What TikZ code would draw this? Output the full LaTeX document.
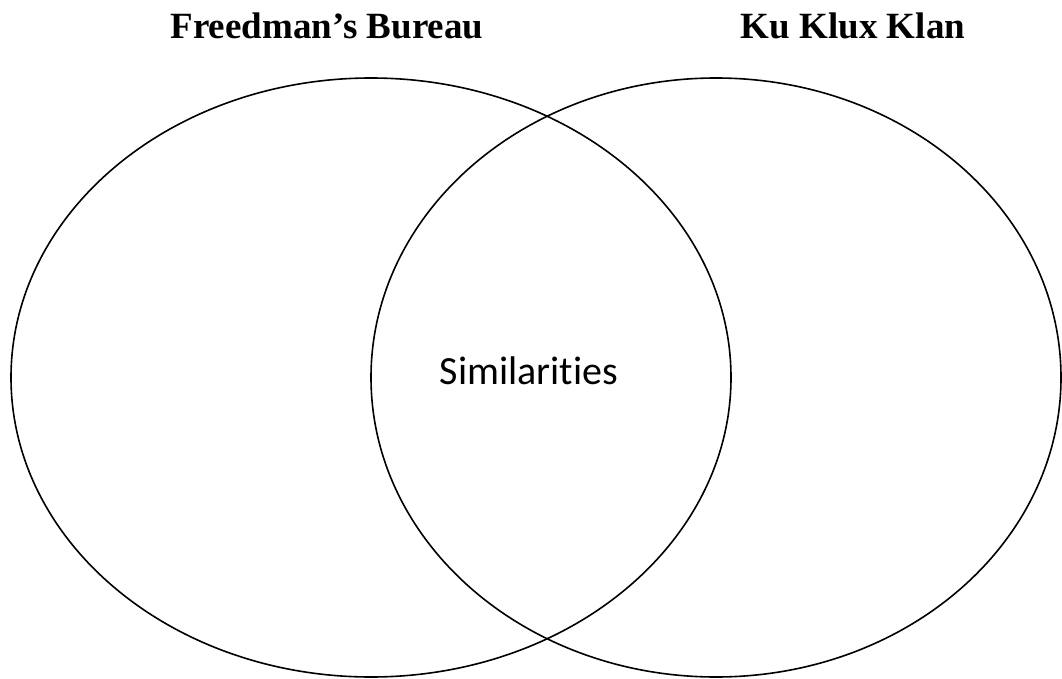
\documentclass[tikz,border=0pt]{standalone}
\usepackage{fontspec}
\setmainfont{Liberation Serif}
\newfontfamily\calfont[Ligatures={NoCommon}]{Carlito}
\begin{document}
\begin{tikzpicture}[x=1pt,y=-1pt,
  circ/.style={draw=black, line width=1.6pt},
  title/.style={anchor=base, inner sep=0pt, font=\fontsize{37}{42}\selectfont\bfseries},
  simlabel/.style={anchor=base, inner sep=0pt, font=\calfont\fontsize{40}{46}\selectfont}]
\useasboundingbox[fill=white] (0,0) rectangle (1062,679);
\draw[circ] (371,377.5) ellipse [x radius=360, y radius=299.5];
\draw[circ] (716,377.5) ellipse [x radius=345, y radius=299.5];
\node[title] (fb) at (327,39) {Freedman’s Bureau};
\node[title] (kkk) at (853,39) {Ku Klux Klan};
\node[simlabel] (sim) at (529,384) {Similarities};
\end{tikzpicture}
\end{document}
